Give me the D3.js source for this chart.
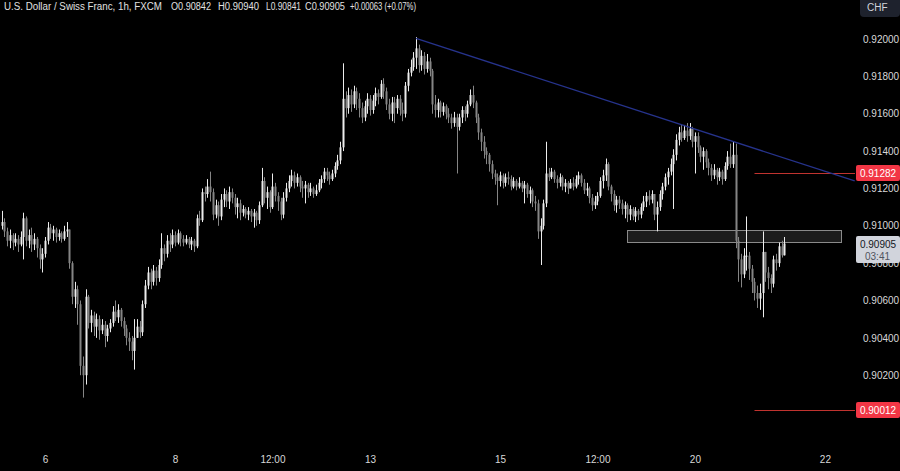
<!DOCTYPE html>
<html lang="en">
<head>
<meta charset="utf-8">
<title>USDCHF 1h</title>
<script src="https://d3js.org/d3.v7.min.js"></script>
<style>
  html, body { margin: 0; padding: 0; background: #000; }
  svg { display: block; }
  text { font-family: "Liberation Sans", "DejaVu Sans", sans-serif; }
</style>
</head>
<body>
<div id="chart"></div>
<script>
// hourly candles, weekend hours skipped -> one slot per bar
var firstOpen = 0.9100;
var closes = [
  0.9102,0.9097,0.9092,0.9095,0.9091,0.9093,0.9090,0.9094,0.9104,0.9092,
  0.9095,0.9090,0.9093,0.9088,0.9082,0.9085,0.9092,0.9099,0.9096,0.9098,
  0.9094,0.9096,0.9093,0.9097,0.9098,0.9080,0.9062,0.9066,0.9058,0.9025,
  0.9020,0.9062,0.9048,0.9052,0.9046,0.9050,0.9044,0.9047,0.9041,0.9045,
  0.9048,0.9054,0.9051,0.9055,0.9049,0.9045,0.9040,0.9038,0.9033,0.9040,
  0.9046,0.9043,0.9058,0.9068,0.9075,0.9070,0.9076,0.9072,0.9079,0.9088,
  0.9085,0.9092,0.9090,0.9095,0.9091,0.9096,0.9093,0.9091,0.9093,0.9090,
  0.9092,0.9089,0.9104,0.9103,0.9118,0.9117,0.9121,0.9118,0.9106,0.9111,
  0.9105,0.9114,0.9117,0.9113,0.9118,0.9115,0.9110,0.9112,0.9107,0.9109,
  0.9106,0.9108,0.9105,0.9107,0.9103,0.9111,0.9124,0.9115,0.9118,0.9110,
  0.9121,0.9116,0.9113,0.9106,0.9115,0.9120,0.9124,0.9127,0.9123,0.9126,
  0.9121,0.9120,0.9122,0.9118,0.9120,0.9117,0.9119,0.9123,0.9125,0.9129,
  0.9127,0.9125,0.9128,0.9132,0.9135,0.9142,0.9168,0.9163,0.9170,0.9165,
  0.9172,0.9168,0.9163,0.9158,0.9164,0.9168,0.9162,0.9167,0.9171,0.9169,
  0.9176,0.9172,0.9165,0.9160,0.9166,0.9163,0.9168,0.9162,0.9160,0.9175,
  0.9182,0.9185,0.9190,0.9195,0.9186,0.9191,0.9184,0.9188,0.9183,0.9165,
  0.9162,0.9166,0.9161,0.9164,0.9160,0.9158,0.9155,0.9158,0.9153,0.9158,
  0.9162,0.9160,0.9165,0.9170,0.9166,0.9158,0.9150,0.9145,0.9140,0.9138,
  0.9133,0.9128,0.9126,0.9124,0.9127,0.9123,0.9126,0.9125,0.9121,0.9124,
  0.9121,0.9123,0.9120,0.9122,0.9117,0.9119,0.9113,0.9112,0.9097,0.9100,
  0.9112,0.9128,0.9126,0.9129,0.9125,0.9123,0.9126,0.9121,0.9123,0.9120,
  0.9123,0.9121,0.9125,0.9127,0.9123,0.9119,0.9120,0.9115,0.9111,0.9113,
  0.9116,0.9124,0.9127,0.9133,0.9121,0.9117,0.9111,0.9114,0.9112,0.9109,
  0.9111,0.9106,0.9109,0.9105,0.9108,0.9106,0.9110,0.9113,0.9116,0.9114,
  0.9117,0.9106,0.9110,0.9117,0.9121,0.9126,0.9129,0.9133,0.9138,0.9146,
  0.9150,0.9147,0.9151,0.9148,0.9152,0.9145,0.9148,0.9142,0.9137,0.9140,
  0.9134,0.9131,0.9127,0.9130,0.9126,0.9129,0.9125,0.9132,0.9137,0.9133,
  0.9138,0.9092,0.9082,0.9074,0.9084,0.9084,0.9077,0.9070,0.9064,0.9061,
  0.9064,0.9086,0.9075,0.9072,0.9069,0.9082,0.9080,0.9089,0.90842,0.90905
];
var highs = [
  0.9108,0.9104,0.9099,0.9098,0.9096,0.9096,0.9095,0.9097,0.9107,0.9105,
  0.9098,0.9099,0.9096,0.9094,0.9090,0.9088,0.9094,0.9102,0.9101,0.9100,
  0.9099,0.9098,0.9097,0.9100,0.9102,0.9098,0.9081,0.9070,0.9068,0.9060,
  0.9030,0.9066,0.9063,0.9055,0.9054,0.9053,0.9052,0.9050,0.9049,0.9047,
  0.9050,0.9057,0.9060,0.9058,0.9056,0.9051,0.9047,0.9043,0.9041,0.9050,
  0.9050,0.9049,0.9060,0.9071,0.9078,0.9077,0.9079,0.9078,0.9082,0.9096,
  0.9090,0.9095,0.9096,0.9098,0.9097,0.9098,0.9097,0.9095,0.9095,0.9094,
  0.9094,0.9093,0.9106,0.9108,0.9120,0.9121,0.9125,0.9129,0.9120,0.9114,
  0.9113,0.9117,0.9120,0.9119,0.9121,0.9120,0.9117,0.9115,0.9114,0.9111,
  0.9110,0.9110,0.9109,0.9109,0.9108,0.9113,0.9131,0.9126,0.9121,0.9119,
  0.9128,0.9123,0.9118,0.9115,0.9118,0.9123,0.9127,0.9130,0.9129,0.9128,
  0.9127,0.9124,0.9124,0.9123,0.9123,0.9121,0.9122,0.9125,0.9127,0.9131,
  0.9131,0.9129,0.9130,0.9134,0.9138,0.9145,0.9187,0.9172,0.9174,0.9173,
  0.9175,0.9174,0.9171,0.9166,0.9167,0.9171,0.9170,0.9170,0.9174,0.9173,
  0.9178,0.9179,0.9174,0.9168,0.9169,0.9169,0.9170,0.9170,0.9166,0.9177,
  0.9184,0.9189,0.9193,0.9201,0.9197,0.9194,0.9193,0.9192,0.9190,0.9184,
  0.9170,0.9168,0.9167,0.9166,0.9165,0.9163,0.9160,0.9161,0.9160,0.9160,
  0.9164,0.9164,0.9167,0.9173,0.9175,0.9167,0.9160,0.9152,0.9148,0.9142,
  0.9139,0.9135,0.9130,0.9128,0.9129,0.9128,0.9128,0.9129,0.9127,0.9126,
  0.9125,0.9126,0.9124,0.9124,0.9123,0.9121,0.9120,0.9116,0.9114,0.9104,
  0.9114,0.9145,0.9131,0.9131,0.9130,0.9127,0.9128,0.9127,0.9125,0.9124,
  0.9125,0.9126,0.9127,0.9129,0.9128,0.9125,0.9123,0.9121,0.9117,0.9116,
  0.9118,0.9126,0.9130,0.9136,0.9134,0.9122,0.9119,0.9116,0.9116,0.9114,
  0.9113,0.9112,0.9111,0.9110,0.9110,0.9109,0.9112,0.9116,0.9118,0.9119,
  0.9119,0.9117,0.9113,0.9119,0.9123,0.9128,0.9131,0.9136,0.9141,0.9149,
  0.9153,0.9154,0.9154,0.9155,0.9155,0.9153,0.9150,0.9150,0.9143,0.9142,
  0.9141,0.9136,0.9133,0.9133,0.9131,0.9131,0.9130,0.9134,0.9140,0.9144,
  0.9145,0.9144,0.9094,0.9085,0.9088,0.9105,0.9086,0.9079,0.9072,0.9068,
  0.9069,0.9097,0.9086,0.9078,0.9074,0.9084,0.9085,0.9091,0.9092,0.90940
];
var lows = [
  0.9098,0.9094,0.9089,0.9088,0.9087,0.9089,0.9086,0.9089,0.9082,0.9089,
  0.9088,0.9086,0.9087,0.9083,0.9077,0.9075,0.9083,0.9090,0.9093,0.9092,
  0.9091,0.9092,0.9091,0.9092,0.9094,0.9077,0.9058,0.9056,0.9047,0.9020,
  0.9008,0.9015,0.9045,0.9043,0.9041,0.9040,0.9039,0.9042,0.9035,0.9038,
  0.9043,0.9046,0.9049,0.9048,0.9046,0.9041,0.9036,0.9033,0.9028,0.9023,
  0.9040,0.9040,0.9041,0.9056,0.9066,0.9066,0.9068,0.9068,0.9070,0.9077,
  0.9081,0.9083,0.9086,0.9088,0.9089,0.9090,0.9089,0.9089,0.9090,0.9088,
  0.9087,0.9086,0.9088,0.9100,0.9102,0.9113,0.9115,0.9113,0.9103,0.9104,
  0.9100,0.9103,0.9110,0.9110,0.9109,0.9112,0.9106,0.9104,0.9103,0.9105,
  0.9104,0.9103,0.9102,0.9099,0.9100,0.9101,0.9110,0.9112,0.9109,0.9107,
  0.9109,0.9113,0.9108,0.9103,0.9104,0.9113,0.9118,0.9121,0.9120,0.9121,
  0.9118,0.9115,0.9112,0.9115,0.9116,0.9115,0.9116,0.9118,0.9120,0.9123,
  0.9124,0.9122,0.9124,0.9126,0.9130,0.9133,0.9140,0.9158,0.9160,0.9161,
  0.9163,0.9162,0.9158,0.9155,0.9156,0.9160,0.9159,0.9160,0.9164,0.9165,
  0.9168,0.9168,0.9162,0.9157,0.9156,0.9155,0.9160,0.9159,0.9156,0.9158,
  0.9172,0.9180,0.9183,0.9184,0.9182,0.9183,0.9181,0.9182,0.9180,0.9160,
  0.9158,0.9158,0.9158,0.9159,0.9157,0.9155,0.9152,0.9153,0.9128,0.9151,
  0.9155,0.9156,0.9158,0.9164,0.9163,0.9155,0.9146,0.9140,0.9136,0.9133,
  0.9129,0.9125,0.9122,0.9111,0.9121,0.9120,0.9121,0.9122,0.9119,0.9120,
  0.9119,0.9120,0.9118,0.9112,0.9115,0.9112,0.9110,0.9108,0.9093,0.9079,
  0.9098,0.9110,0.9124,0.9125,0.9123,0.9120,0.9121,0.9119,0.9118,0.9117,
  0.9120,0.9119,0.9120,0.9122,0.9121,0.9117,0.9116,0.9112,0.9108,0.9109,
  0.9111,0.9115,0.9120,0.9124,0.9119,0.9113,0.9108,0.9107,0.9109,0.9106,
  0.9104,0.9102,0.9103,0.9103,0.9102,0.9103,0.9104,0.9108,0.9110,0.9111,
  0.9112,0.9103,0.9097,0.9108,0.9114,0.9119,0.9122,0.9127,0.9109,0.9135,
  0.9143,0.9145,0.9146,0.9145,0.9146,0.9142,0.9128,0.9139,0.9134,0.9130,
  0.9131,0.9127,0.9124,0.9125,0.9122,0.9124,0.9122,0.9124,0.9130,0.9131,
  0.9131,0.9088,0.9070,0.9067,0.9072,0.9076,0.9071,0.9064,0.9060,0.9056,
  0.9055,0.9051,0.9070,0.9066,0.9064,0.9067,0.9076,0.9078,0.9083,0.90841
];

// axis ticks (bar index -> label)
var tickBars   = [16, 64, 100, 136, 184, 220, 256, 304];
var tickLabels = ["6", "8", "12:00", "13", "15", "12:00", "20", "22"];
// 0.90000 sits under the red 0.90012 tag in the reference, so it is left out
var priceTicks = [0.902, 0.904, 0.906, 0.908, 0.910, 0.912, 0.914, 0.916, 0.918, 0.920];

// drawings
var trendPts   = [[153, 0.92003], [315, 0.91240]];
var zoneBars   = [231, 310];
var zonePrices = [0.90913, 0.90977];
var levels     = [0.91282, 0.90012];
var levelStart = 278;
var lastPrice  = 0.90905;
var countdown  = "03:41";

var header = [
  {t: "U.S. Dollar / Swiss Franc, 1h, FXCM", x: 4, w: 158},
  {t: "O0.90842", x: 171, w: 40},
  {t: "H0.90940", x: 218, w: 41},
  {t: "L0.90841", x: 266, w: 35},
  {t: "C0.90905", x: 305, w: 40},
  {t: "+0.00063 (+0.07%)", x: 350, w: 66}
];

var W = 900, H = 471, plotR = 855, plotB = 440;

var svg = d3.select("#chart").append("svg")
    .attr("width", W)
    .attr("height", H)
    .style("background", "#000");

var x = d3.scaleLinear().domain([0, 289]).range([1.67, 1.67 + 289 * 2.708]);
var y = d3.scaleLinear().domain([0.89853, 0.92209]).range([plotB, 0]);

svg.append("clipPath").attr("id", "plotclip")
  .append("rect").attr("x", 0).attr("y", 0).attr("width", plotR).attr("height", plotB);

var plot = svg.append("g").attr("clip-path", "url(#plotclip)");

// support zone
plot.append("rect")
    .attr("x", Math.round(x(zoneBars[0])) + 0.5)
    .attr("y", Math.round(y(zonePrices[1])) + 0.5)
    .attr("width", Math.round(x(zoneBars[1]) - x(zoneBars[0])))
    .attr("height", Math.round(y(zonePrices[0]) - y(zonePrices[1])))
    .attr("fill", "#1c1c1c")
    .attr("stroke", "#8a8a8a")
    .attr("stroke-width", 1);

// candles
var bars = closes.map(function(c, i) {
  var o = i === 0 ? firstOpen : closes[i - 1];
  return {i: i, o: o, h: Math.max(highs[i], o, c), l: Math.min(lows[i], o, c), c: c};
});

var candle = plot.selectAll("g.candle")
  .data(bars)
  .enter().append("g")
    .attr("class", "candle");

candle.append("line")
    .attr("x1", function(d) { return Math.round(x(d.i)) + 0.5; })
    .attr("x2", function(d) { return Math.round(x(d.i)) + 0.5; })
    .attr("y1", function(d) { return y(d.h); })
    .attr("y2", function(d) { return y(d.l); })
    .attr("stroke", function(d) { return d.c >= d.o ? "#ececec" : "#858585"; })
    .attr("stroke-width", 1);

candle.append("rect")
    .attr("x", function(d) { return Math.round(x(d.i)) - 0.5; })
    .attr("width", 2)
    .attr("y", function(d) { return y(Math.max(d.o, d.c)); })
    .attr("height", function(d) { return Math.max(1, Math.abs(y(d.o) - y(d.c))); })
    .attr("fill", function(d) { return d.c >= d.o ? "#ececec" : "#858585"; });

// horizontal levels
plot.selectAll("line.level")
  .data(levels)
  .enter().append("line")
    .attr("class", "level")
    .attr("x1", x(levelStart)).attr("x2", plotR)
    .attr("y1", function(d) { return Math.round(y(d)) + 0.5; })
    .attr("y2", function(d) { return Math.round(y(d)) + 0.5; })
    .attr("stroke", "#c0332f")
    .attr("stroke-width", 1.2);

// trend line
plot.append("line")
    .attr("x1", x(trendPts[0][0])).attr("y1", y(trendPts[0][1]))
    .attr("x2", x(trendPts[1][0])).attr("y2", y(trendPts[1][1]))
    .attr("stroke", "#26338c")
    .attr("stroke-width", 1.3);

// price axis
var yAxis = svg.append("g")
    .attr("transform", "translate(860,0)")
    .call(d3.axisRight(y).tickValues(priceTicks).tickFormat(d3.format(".5f")).tickSize(0));
yAxis.select(".domain").remove();
yAxis.selectAll("text")
    .attr("x", 3)
    .attr("fill", "#d8d8d8")
    .style("font-size", "10px");

// time axis
var xAxis = svg.append("g")
    .attr("transform", "translate(0," + 453 + ")")
    .call(d3.axisBottom(x).tickValues(tickBars).tickFormat(function(d, i) { return tickLabels[i]; }).tickSize(0));
xAxis.select(".domain").remove();
xAxis.selectAll("text")
    .attr("fill", "#d8d8d8")
    .style("font-size", "10px");

// price labels on the axis
levels.forEach(function(v) {
  var yy = Math.round(y(v));
  svg.append("rect")
      .attr("x", 856).attr("y", yy - 8).attr("width", 44).attr("height", 16).attr("rx", 2)
      .attr("fill", "#f23645");
  svg.append("text")
      .attr("x", 878).attr("y", yy).attr("dy", "0.35em")
      .attr("text-anchor", "middle")
      .attr("fill", "#fff")
      .style("font-size", "10px")
      .text(d3.format(".5f")(v));
});

var ly = Math.round(y(lastPrice));
svg.append("rect")
    .attr("x", 856).attr("y", ly - 8).attr("width", 44).attr("height", 27).attr("rx", 2)
    .attr("fill", "#d1d4dc");
svg.append("text")
    .attr("x", 878).attr("y", ly).attr("dy", "0.35em")
    .attr("text-anchor", "middle").attr("fill", "#131722")
    .style("font-size", "10px")
    .text(d3.format(".5f")(lastPrice));
svg.append("text")
    .attr("x", 865).attr("y", ly + 12).attr("dy", "0.35em")
    .attr("fill", "#50535e")
    .style("font-size", "10px")
    .text(countdown);

// currency badge
svg.append("rect")
    .attr("x", 860).attr("y", -4).attr("width", 40).attr("height", 21).attr("rx", 4)
    .attr("fill", "#1e222d");
svg.append("text")
    .attr("x", 867).attr("y", 11)
    .attr("fill", "#d1d4dc")
    .style("font-size", "10px")
    .text("CHF");

// legend header, squeezed horizontally like the narrow chart font
var hsx = 0.78;
svg.append("g")
    .attr("transform", "scale(" + hsx + ",1)")
  .selectAll("text.hdr")
  .data(header)
  .enter().append("text")
    .attr("class", "hdr")
    .attr("x", function(d) { return d.x / hsx; })
    .attr("y", 10)
    .attr("textLength", function(d) { return d.w / hsx; })
    .attr("lengthAdjust", "spacingAndGlyphs")
    .attr("fill", "#e0e0e0")
    .style("font-size", "11px")
    .text(function(d) { return d.t; });
</script>
</body>
</html>
